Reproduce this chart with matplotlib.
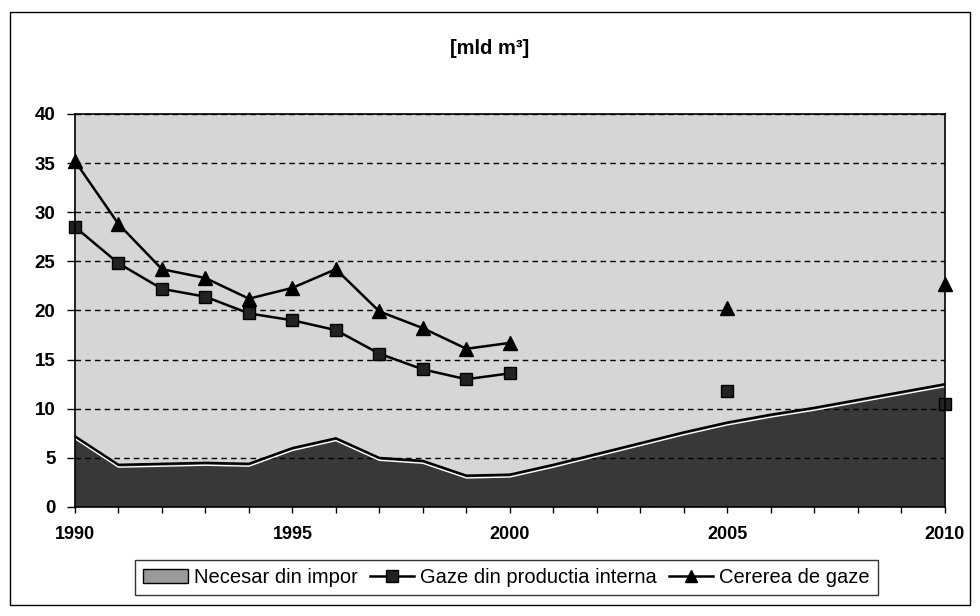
"""
Gaze naturale: cerere, productie interna si necesar din import
"""
import matplotlib
matplotlib.use('Agg')
import matplotlib.pyplot as plt
from matplotlib.patches import Rectangle

matplotlib.rcParams['font.family'] = ['Liberation Sans', 'DejaVu Sans']

# date
ani = [1990, 1991, 1992, 1993, 1994, 1995, 1996, 1997, 1998, 1999, 2000,
       2001, 2002, 2003, 2004, 2005, 2006, 2007, 2008, 2009, 2010]
necesar_import = [7.2, 4.3, 4.4, 4.5, 4.4, 6.0, 7.0, 5.0, 4.7, 3.2, 3.3,
                  4.3, 5.4, 6.5, 7.6, 8.6, 9.4, 10.1, 10.9, 11.7, 12.5]

ani_linii = [1990, 1991, 1992, 1993, 1994, 1995, 1996, 1997, 1998, 1999, 2000, 2005, 2010]
productie_interna = [28.5, 24.8, 22.2, 21.4, 19.7, 19.0, 18.0, 15.6, 14.0, 13.0, 13.6, 11.8, 10.5]
cerere_gaze = [35.2, 28.8, 24.2, 23.3, 21.2, 22.3, 24.2, 19.9, 18.2, 16.1, 16.7, 20.2, 22.7]

etichete_x = [1990, 1995, 2000, 2005, 2010]


def segmente(x, y):
    # liniile sunt intrerupte intre anii fara date (2000-2005, 2005-2010)
    parti, cur = [], [(x[0], y[0])]
    for i in range(1, len(x)):
        if x[i] - x[i - 1] == 1:
            cur.append((x[i], y[i]))
        else:
            parti.append(cur)
            cur = [(x[i], y[i])]
    parti.append(cur)
    return parti


fig = plt.figure(figsize=(9.8, 6.16), dpi=100)
fig.patches.append(Rectangle((0.010, 0.018), 0.980, 0.962, transform=fig.transFigure,
                             fill=False, edgecolor='black', linewidth=1.0))
ax = fig.add_axes([0.0765, 0.177, 0.8875, 0.638])
ax.set_facecolor('#d6d6d6')

ax.fill_between(ani, necesar_import, 0, facecolor='#383838', edgecolor='none', zorder=2)
ax.plot(ani, [v - 0.25 for v in necesar_import], color='white', linewidth=1.0, zorder=3)
ax.plot(ani, necesar_import, color='black', linewidth=1.6, zorder=3)

for parte in segmente(ani_linii, productie_interna):
    xs, ys = zip(*parte)
    ax.plot(xs, ys, color='black', linewidth=1.8, zorder=4)
ax.plot(ani_linii, productie_interna, linestyle='none', marker='s', markersize=9,
        markerfacecolor='#222222', markeredgecolor='black', zorder=5, clip_on=False)

for parte in segmente(ani_linii, cerere_gaze):
    xs, ys = zip(*parte)
    ax.plot(xs, ys, color='black', linewidth=1.8, zorder=4)
ax.plot(ani_linii, cerere_gaze, linestyle='none', marker='^', markersize=10,
        color='black', zorder=5, clip_on=False)

ax.set_xlim(1990, 2010)
ax.set_ylim(0, 40)
ax.set_xticks(ani)
ax.set_xticklabels([str(a) if a in etichete_x else '' for a in ani])
ax.set_yticks(range(0, 41, 5))
ax.yaxis.grid(True, linestyle=(0, (4, 3)), color='black', linewidth=1.0)
ax.set_axisbelow(False)
for t in ax.yaxis.get_gridlines():
    t.set_zorder(1.5)
ax.tick_params(axis='y', direction='out', length=6, width=1.0, labelsize=13.5, pad=8)
ax.tick_params(axis='x', direction='out', length=4, width=1.0, labelsize=13, pad=10)
for lab in ax.get_xticklabels() + ax.get_yticklabels():
    lab.set_fontweight('bold')
for s in ax.spines.values():
    s.set_color('black')
    s.set_linewidth(1.2)
    s.set_zorder(6)

fig.text(0.5, 0.922, '[mld m\u00b3]', ha='center', va='center', fontsize=14.5, fontweight='bold')

h_arie = Rectangle((0, 0), 1, 1, facecolor='#9a9a9a', edgecolor='black', linewidth=1.0)
h_prod, = ax.plot([], [], color='black', linewidth=1.8, marker='s', markersize=8,
                  markerfacecolor='#222222')
h_cer, = ax.plot([], [], color='black', linewidth=1.8, marker='^', markersize=9)
leg = fig.legend([h_arie, h_prod, h_cer],
                 ['Necesar din impor', 'Gaze din productia interna', 'Cererea de gaze'],
                 loc='center', bbox_to_anchor=(0.517, 0.063), ncol=3, fontsize=14.5,
                 frameon=True, fancybox=False, edgecolor='black', handlelength=2.2,
                 handletextpad=0.3, columnspacing=0.6, borderpad=0.4)
leg.get_frame().set_linewidth(1.0)

fig.savefig('out.png', dpi=100)
